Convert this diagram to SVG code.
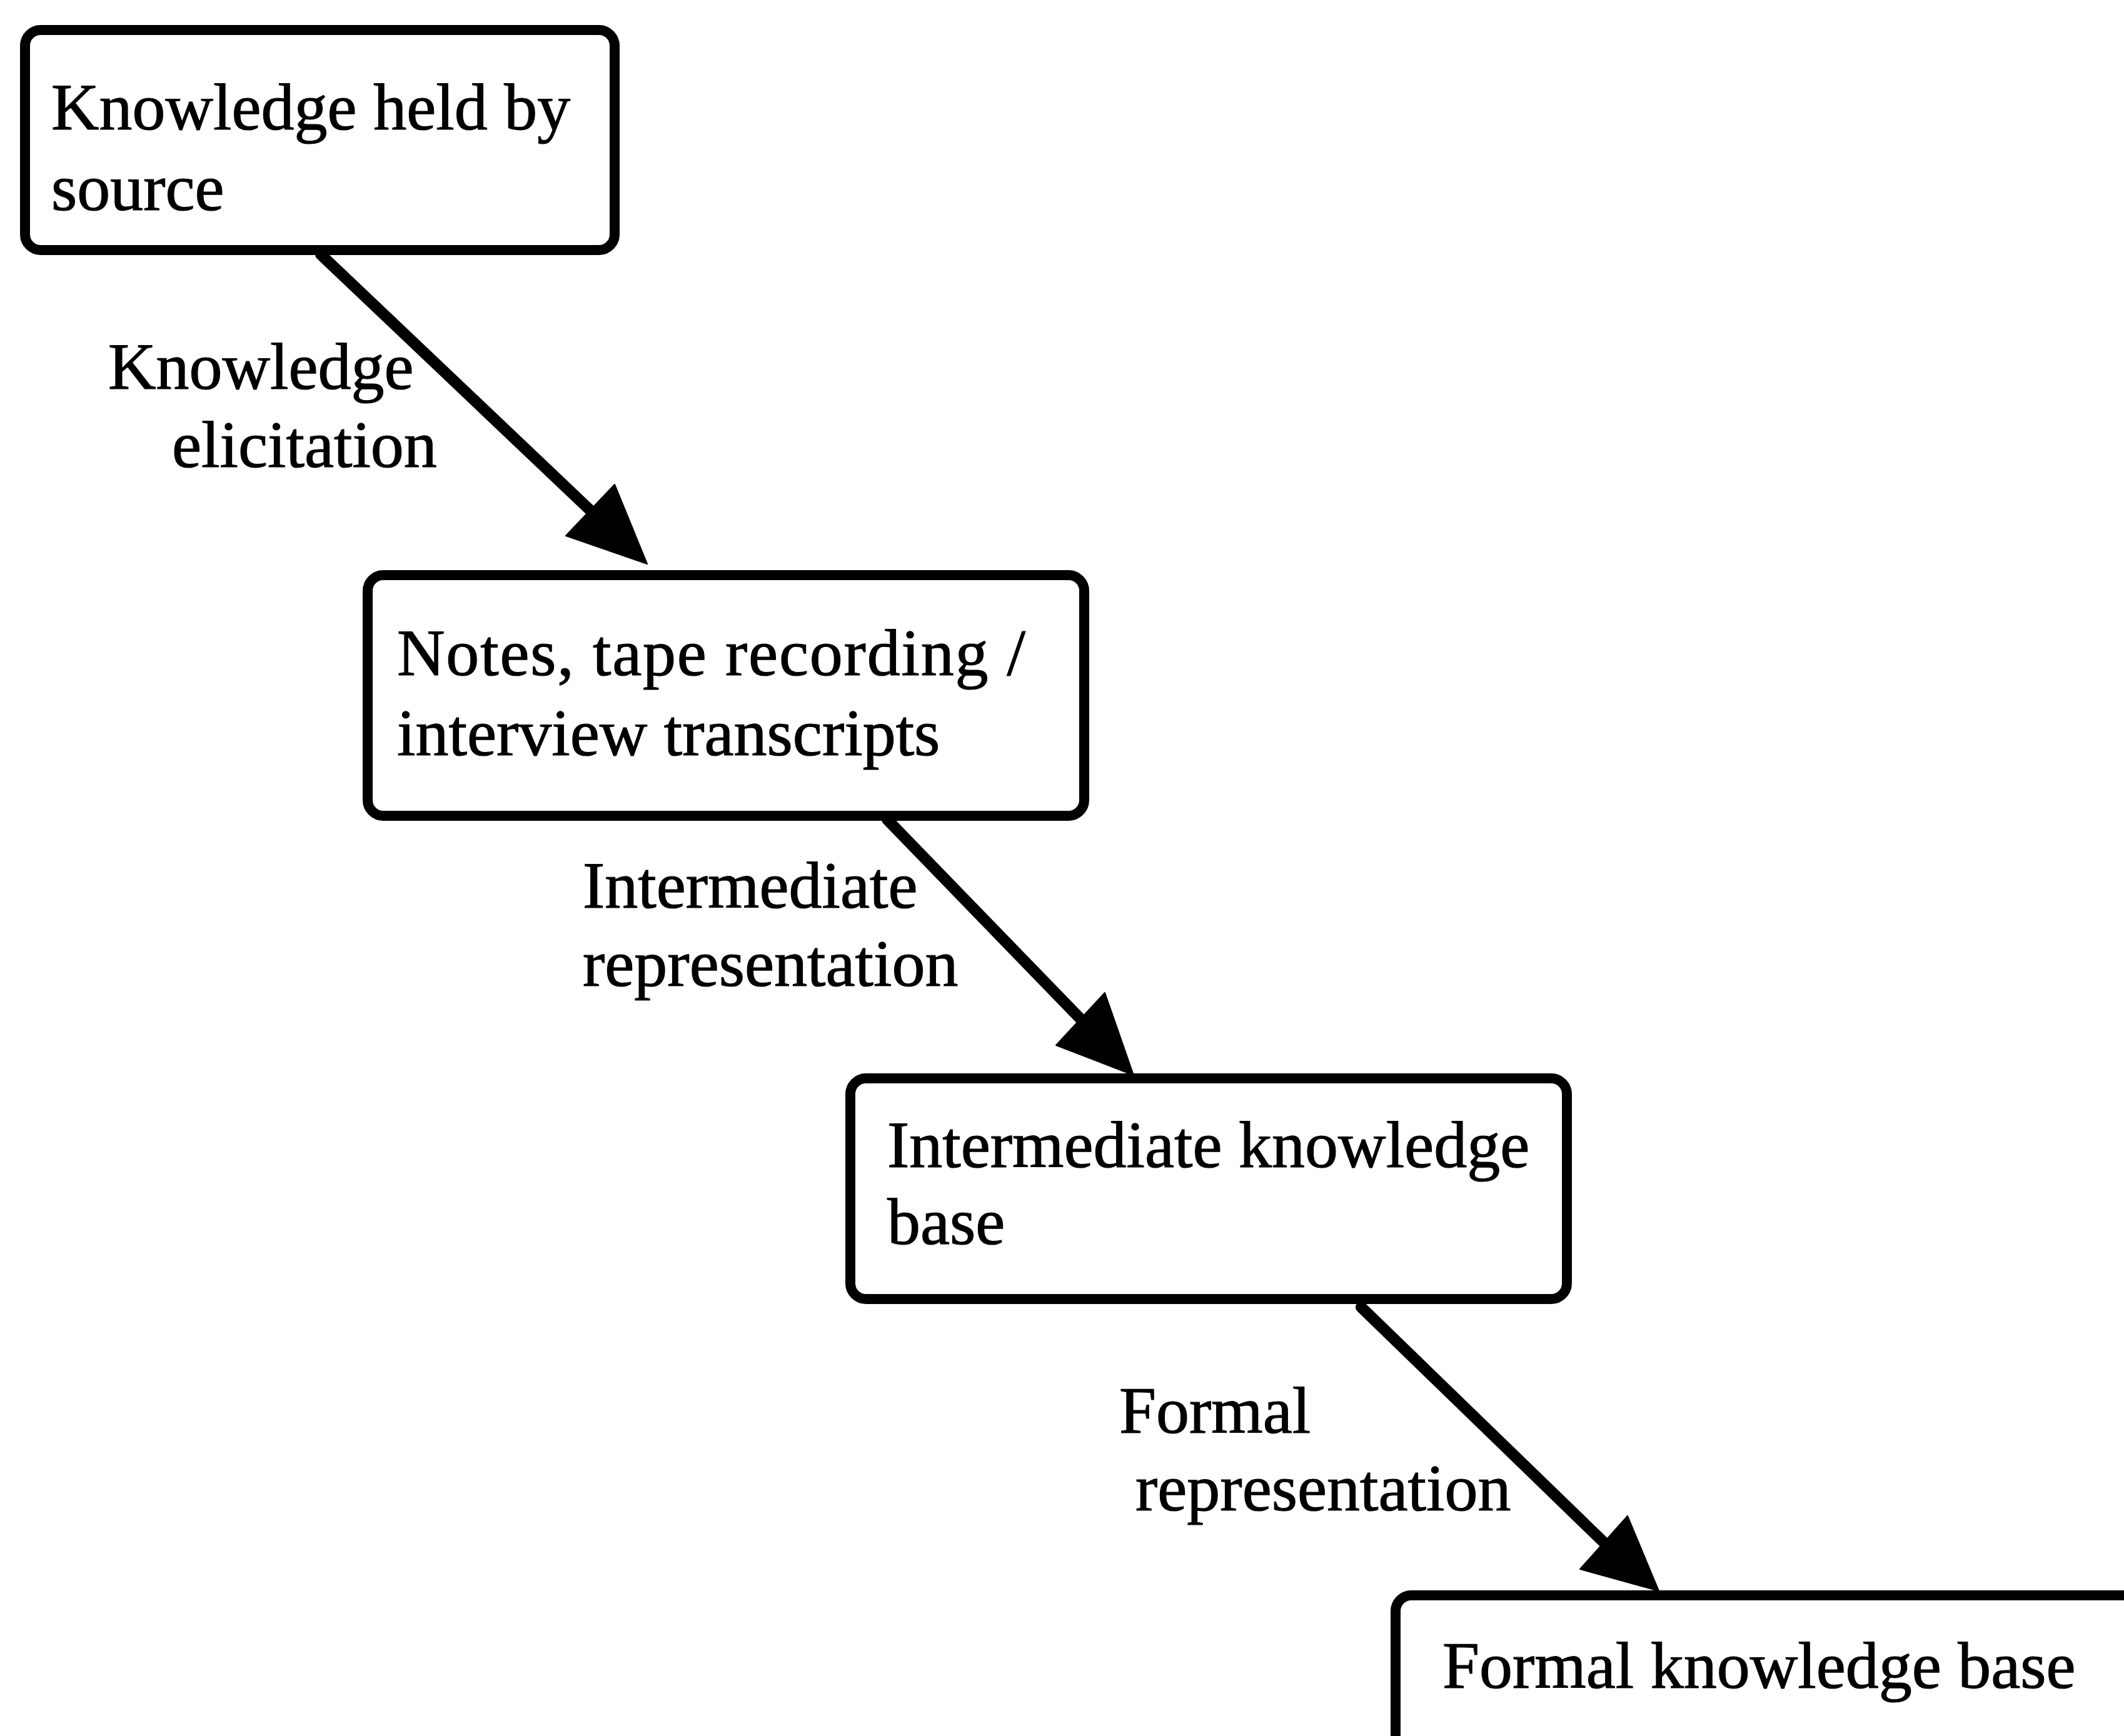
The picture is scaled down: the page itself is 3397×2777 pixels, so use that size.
<svg xmlns="http://www.w3.org/2000/svg" width="3397" height="2777" viewBox="0 0 3397 2777">
<style>
.box{fill:#fff;stroke:#000;stroke-width:16}
.t{font-family:"Liberation Serif","Times New Roman",serif;font-size:106px;fill:#000;stroke:#000;stroke-width:1.2}
.edge{stroke:#000;stroke-width:18;fill:none;stroke-linecap:round}
.head{fill:#000;stroke:#000;stroke-width:2;stroke-linejoin:round}
</style>
<rect width="3397" height="2777" fill="#fff"/>
<g id="connectors">
<line class="edge" x1="513" y1="407" x2="950" y2="822"/>
<polygon class="head" points="1035,902 983,775 905,857"/>
<line class="edge" x1="1419" y1="1311" x2="1734" y2="1636"/>
<polygon class="head" points="1813,1720 1767,1588 1689,1672"/>
<line class="edge" x1="2177" y1="2091" x2="2571" y2="2473"/>
<polygon class="head" points="2653,2545 2603,2425 2527,2510"/>
<text class="t" x="173" y="622">Knowledge</text>
<text class="t" x="275" y="747">elicitation</text>
<text class="t" x="932" y="1452">Intermediate</text>
<text class="t" x="932" y="1577">representation</text>
<text class="t" x="1790" y="2292">Formal</text>
<text class="t" x="1816" y="2416">representation</text>
</g>
<g id="node-source">
<rect class="box" x="40" y="48" width="943" height="352" rx="25"/>
<text class="t" x="82" y="207">Knowledge held by</text>
<text class="t" x="82" y="336">source</text>
</g>
<g id="node-notes">
<rect class="box" x="588" y="920" width="1146" height="385" rx="25"/>
<text class="t" x="635" y="1080" textLength="1005" lengthAdjust="spacing">Notes, tape recording /</text>
<text class="t" x="635" y="1208">interview transcripts</text>
</g>
<g id="node-intermediate">
<rect class="box" x="1360" y="1725" width="1146" height="353" rx="25"/>
<text class="t" x="1419" y="1867">Intermediate knowledge</text>
<text class="t" x="1419" y="1990">base</text>
</g>
<g id="node-formal">
<rect class="box" x="2232" y="2552" width="1300" height="400" rx="25"/>
<text class="t" x="2307" y="2700">Formal knowledge base</text>
</g>
</svg>
